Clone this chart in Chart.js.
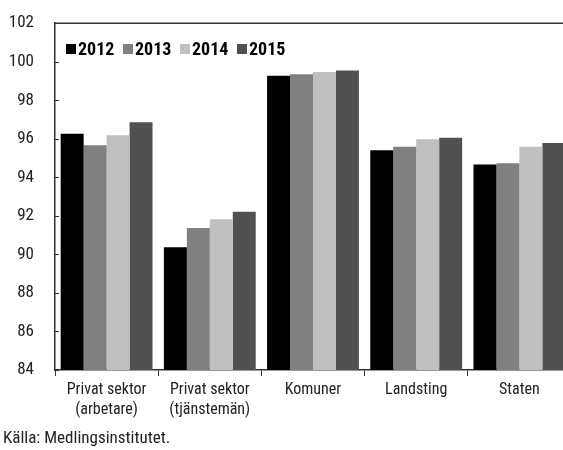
<!DOCTYPE html>
<html lang="sv">
<head>
    <meta charset="utf-8">
    <title>Lönestruktur per sektor</title>
    <script src="https://cdn.jsdelivr.net/npm/chart.js"></script>
    <style>
        html, body {
            margin: 0;
            padding: 0;
            background: #fff;
            overflow: hidden;
        }

        .wrap {
            position: relative;
            width: 563px;
            height: 450px;
            overflow: hidden;
        }

        #barChart {
            position: absolute;
            left: 0;
            top: 0;
        }

        .source {
            position: absolute;
            left: 3px;
            top: 427px;
            font-family: "Roboto Condensed", sans-serif;
            font-size: 17px;
            color: #222;
        }
    </style>
</head>

<body>
    <div class="wrap">
        <canvas id="barChart" width="572" height="450"></canvas>
        <div class="source">Källa: Medlingsinstitutet.</div>
    </div>

    <script>
        const categories = [
            ['Privat sektor', '(arbetare)'],
            ['Privat sektor', '(tjänstemän)'],
            'Komuner',
            'Landsting',
            'Staten'
        ];
        const years = ['2012', '2013', '2014', '2015'];
        const values2012 = [96.26, 90.37, 99.27, 95.40, 94.67];
        const values2013 = [95.66, 91.37, 99.35, 95.59, 94.73];
        const values2014 = [96.19, 91.83, 99.47, 95.98, 95.59];
        const values2015 = [96.86, 92.22, 99.55, 96.05, 95.78];
        const colors = ['#000000', '#808080', '#c0c0c0', '#505050'];

        const FONT = '"Roboto Condensed", sans-serif';

        // frame line on top, inward ticks on the y axis, legend inside the plot
        const decorations = {
            id: 'decorations',
            afterDraw(chart) {
                const c = chart.ctx;
                const area = chart.chartArea;
                const y = chart.scales.y;
                c.save();
                c.strokeStyle = '#333';
                c.lineWidth = 1.5;
                c.beginPath();
                c.moveTo(area.left, area.top);
                c.lineTo(area.right, area.top);
                c.stroke();
                c.lineWidth = 1;
                y.ticks.forEach(t => {
                    const py = Math.round(y.getPixelForValue(t.value)) + 0.5;
                    c.beginPath();
                    c.moveTo(area.left, py);
                    c.lineTo(area.left + 4, py);
                    c.stroke();
                });

                // legend
                c.font = 'bold 18px ' + FONT;
                c.textBaseline = 'middle';
                let x = area.left + 11;
                const ly = 49;
                chart.data.datasets.forEach(ds => {
                    c.fillStyle = ds.backgroundColor;
                    c.fillRect(x, ly - 5, 10, 10);
                    c.fillStyle = '#000';
                    c.fillText(ds.label, x + 12, ly + 1);
                    x += 57;
                });
                c.restore();
            }
        };

        const datasets = [values2012, values2013, values2014, values2015].map((vals, i) => ({
            label: years[i],
            data: vals,
            backgroundColor: colors[i],
            borderWidth: 0,
            categoryPercentage: 0.89,
            barPercentage: 1.0
        }));

        new Chart(document.getElementById('barChart'), {
            type: 'bar',
            data: { labels: categories, datasets: datasets },
            options: {
                responsive: false,
                animation: false,
                layout: { padding: { top: 19, right: 1, left: 0, bottom: 0 } },
                plugins: {
                    legend: { display: false },
                    tooltip: { enabled: false }
                },
                scales: {
                    x: {
                        offset: true,
                        border: { color: '#333', width: 1.5 },
                        grid: {
                            offset: true,
                            drawOnChartArea: false,
                            color: '#333',
                            tickLength: 6
                        },
                        ticks: {
                            color: '#222',
                            padding: 4,
                            maxRotation: 0,
                            autoSkip: false,
                            font: { family: FONT, size: 16, lineHeight: 1.25 }
                        },
                        afterFit(scale) { scale.height = 80; }
                    },
                    y: {
                        min: 84,
                        max: 102,
                        border: { color: '#333', width: 1.5 },
                        grid: { display: false },
                        ticks: {
                            stepSize: 2,
                            color: '#222',
                            padding: 13,
                            font: { family: FONT, size: 17 }
                        },
                        afterFit(scale) { scale.width = 55; }
                    }
                }
            },
            plugins: [decorations]
        });
    </script>
</body>

</html>
